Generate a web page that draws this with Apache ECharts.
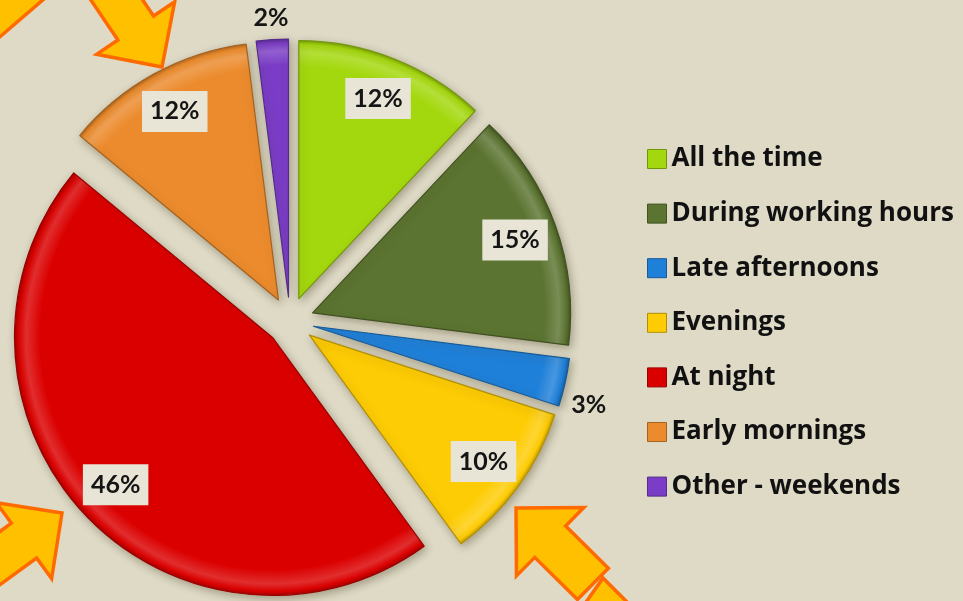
<!DOCTYPE html>
<html>
<head>
<meta charset="utf-8">
<title>When do you work?</title>
<script src="https://cdn.jsdelivr.net/npm/echarts@6/dist/echarts.min.js"></script>
<style>
  html, body { margin: 0; padding: 0; background: #dedac6; }
  #chart { width: 963px; height: 601px; }
</style>
</head>
<body>
<div id="chart"></div>
<script>
// Share of answers per time slot (percent)
const categories = ['All the time', 'During working hours', 'Late afternoons', 'Evenings', 'At night', 'Early mornings', 'Other - weekends'];
const shares = [12, 15, 3, 10, 46, 12, 2];
const sliceColors = ['#a4d80e', '#5b7431', '#1f80d9', '#fecc05', '#db0000', '#ec8b2d', '#7b3dc7'];

const CENTER = [290, 321];
const R = 258;
const EXPLODE = 24;
const LABEL_FONT = 'Lato, "DejaVu Sans", sans-serif';
const LEGEND_FONT = '"Open Sans", Lato, sans-serif';

// Small colour helper: mix a hex colour towards white (t > 0) or black (t < 0)
function shade(hex, t) {
  const n = parseInt(hex.slice(1), 16);
  const ch = [(n >> 16) & 255, (n >> 8) & 255, n & 255].map(c =>
    Math.round(t >= 0 ? c + (255 - c) * t : c * (1 + t)));
  return 'rgb(' + ch.join(',') + ')';
}

// Bevelled slice fill: flat body, light band near the rim, darker outer edge
function bevelFill(hex) {
  return {
    type: 'radial', x: CENTER[0], y: CENTER[1], r: R, global: true,
    colorStops: [
      { offset: 0, color: hex },
      { offset: 0.9, color: hex },
      { offset: 0.955, color: shade(hex, 0.18) },
      { offset: 0.985, color: hex },
      { offset: 1, color: shade(hex, -0.25) }
    ]
  };
}

const chart = echarts.init(document.getElementById('chart'), null, { renderer: 'canvas' });

// Slices with a value label in a box inside the slice; thin slices get a plain label outside
const isThin = v => v < 5;

// Decorative call-out arrows: tip point, pointing direction (deg), lengths
function arrowShape(tip, angleDeg, len, headLen, headHalf, shaftHalf) {
  const a = angleDeg * Math.PI / 180;
  const ux = Math.cos(a), uy = Math.sin(a);
  const px = -uy, py = ux;
  const at = (back, side) => [tip[0] - back * ux + side * px, tip[1] - back * uy + side * py];
  return [tip, at(headLen, headHalf), at(headLen, shaftHalf), at(len, shaftHalf),
          at(len, -shaftHalf), at(headLen, -shaftHalf), at(headLen, -headHalf)];
}
const arrowStyle = { fill: '#ffc000', stroke: '#ff6a00', lineWidth: 3.5, lineJoin: 'miter' };
const arrows = [
  arrowShape([162, 67], 56, 130, 47, 47, 21.5),
  arrowShape([62, 513], -36, 110, 47, 47, 21.5),
  arrowShape([516, 508], 224.6, 108, 48, 48, 22),
  [[-20, -20], [66, -20], [-20, 54]],
  [[603, 578], [650, 625], [570, 625]]
].map(points => ({
  type: 'polygon',
  silent: true,
  z: 10,
  shape: { points: points },
  style: arrowStyle
}));

const mainData = categories.map((name, i) => ({
  name: name,
  value: shares[i],
  selected: true,
  itemStyle: {
    color: bevelFill(sliceColors[i]),
    borderColor: shade(sliceColors[i], -0.3),
    borderWidth: 1.2,
    shadowBlur: 8,
    shadowOffsetX: 2,
    shadowOffsetY: 3,
    shadowColor: 'rgba(60, 50, 20, 0.35)'
  }
}));

const boxedLabelData = categories.map((name, i) => ({
  name: name,
  value: shares[i],
  selected: true,
  label: { show: !isThin(shares[i]) }
}));

const plainLabelData = categories.map((name, i) => ({
  name: name,
  value: shares[i],
  selected: true,
  label: { show: isThin(shares[i]) }
}));

const pctText = p => p.value + '%';
const common = {
  type: 'pie',
  center: CENTER,
  startAngle: 90,
  clockwise: true,
  selectedMode: 'multiple',
  selectedOffset: EXPLODE,
  avoidLabelOverlap: false,
  animation: false,
  emphasis: { disabled: true },
  labelLine: { show: false }
};

chart.setOption({
  backgroundColor: '#dedac6',
  animation: false,
  legend: {
    orient: 'vertical',
    left: 642,
    top: 139,
    itemWidth: 19,
    itemHeight: 19,
    itemGap: 24.6,
    icon: 'rect',
    selectedMode: false,
    data: categories.map((name, i) => ({
      name: name,
      itemStyle: { color: sliceColors[i], borderColor: shade(sliceColors[i], -0.3), borderWidth: 1, shadowBlur: 0 }
    })),
    textStyle: {
      fontFamily: LEGEND_FONT,
      fontSize: 26,
      fontWeight: 'bold',
      color: '#111111',
      lineHeight: 30
    }
  },
  graphic: arrows,
  series: [
    Object.assign({}, common, {
      name: 'slices',
      radius: [0, R],
      label: { show: false },
      data: mainData
    }),
    Object.assign({}, common, {
      name: 'boxed labels',
      radius: [R * 0.74, R * 0.905],
      silent: true,
      itemStyle: { color: 'rgba(0,0,0,0)' },
      label: {
        position: 'inside',
        formatter: pctText,
        fontFamily: LABEL_FONT,
        fontSize: 25,
        fontWeight: 'bold',
        color: '#151515',
        backgroundColor: '#e8e5d6',
        padding: [9, 8, 7, 8]
      },
      data: boxedLabelData
    }),
    Object.assign({}, common, {
      name: 'plain labels',
      radius: [R + 5, R + 33],
      silent: true,
      itemStyle: { color: 'rgba(0,0,0,0)' },
      label: {
        position: 'inside',
        formatter: pctText,
        fontFamily: LABEL_FONT,
        fontSize: 25,
        fontWeight: 'bold',
        color: '#151515'
      },
      // the 3% tag sits a little below its slice's bisector
      labelLayout: p => (p.dataIndex === 2 ? { dx: 2, dy: 18 } : {}),
      data: plainLabelData
    })
  ]
});
</script>
</body>
</html>
